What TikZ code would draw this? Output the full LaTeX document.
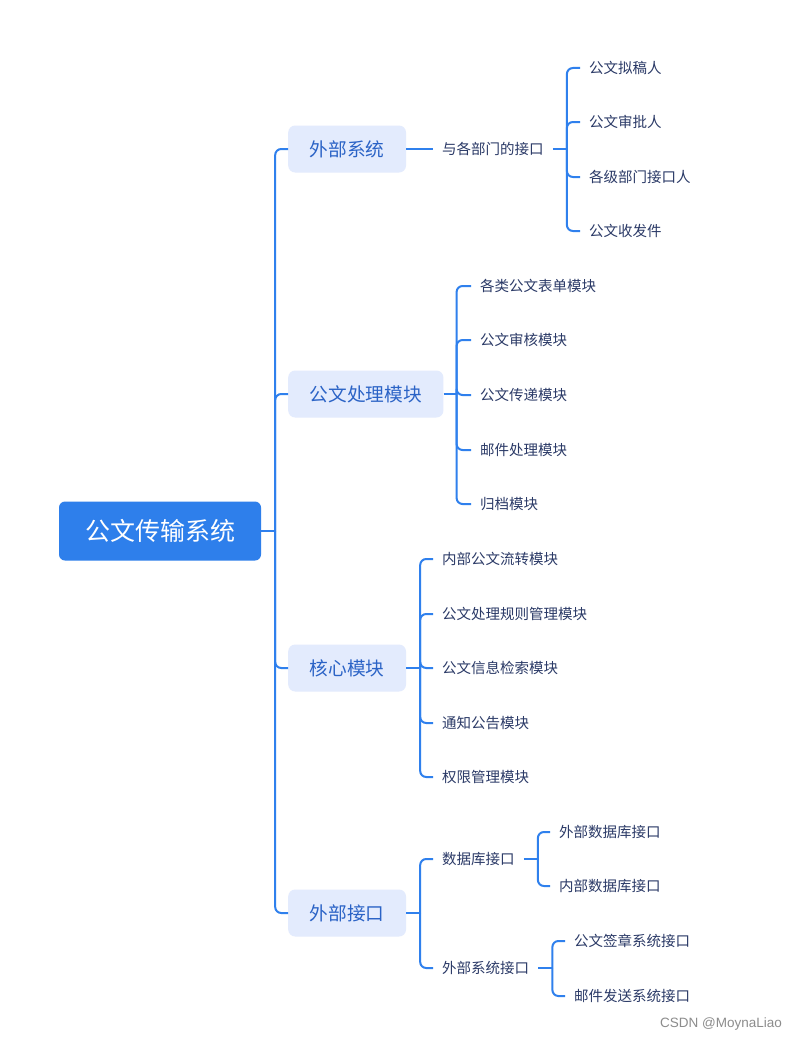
\documentclass[tikz,border=0pt]{standalone}
\usepackage{fontspec}
\usepackage{tikz}
\newfontfamily\cjk{Noto Sans CJK SC}
\newfontfamily\wmfont{Liberation Sans}
\definecolor{linkblue}{HTML}{2F80ED}
\definecolor{rootblue}{HTML}{2E7FEB}
\definecolor{boxfill}{HTML}{E3EBFD}
\definecolor{boxtext}{HTML}{2B63C6}
\definecolor{leaftext}{HTML}{2B3A67}
\tikzset{
  rootbox/.style={fill=rootblue, text=white, rounded corners=6pt,
    minimum width=202pt, minimum height=59pt, font=\cjk\fontsize{25}{29}\selectfont},
  topicbox/.style={fill=boxfill, text=boxtext, rounded corners=7pt, anchor=west,
    inner xsep=21.5pt, minimum height=47pt, font=\cjk\fontsize{18.7}{22}\selectfont},
  leaf/.style={text=leaftext, anchor=west, inner xsep=9pt, inner ysep=3pt,
    font=\cjk\fontsize{14.5}{17}\selectfont},
  link/.style={draw=linkblue, line width=2pt, rounded corners=6pt},
}

\begin{document}
\begin{tikzpicture}[x=1pt,y=-1pt]
\useasboundingbox (0,0) rectangle (799,1041);
\path[fill=white] (0,0) rectangle (799,1041);
% root and main topics:
\node[rootbox] (root) at (160,531) {公文传输系统};
\node[topicbox] (ext) at (288,149) {外部系统};
\node[topicbox] (proc) at (288,394) {公文处理模块};
\node[topicbox] (core) at (288,668) {核心模块};
\node[topicbox] (intf) at (288,913) {外部接口};
\coordinate (trunk) at ([xshift=14pt]root.east);
\draw[link] (root.east) -- (trunk);
\foreach \t in {ext,proc,core,intf}
  \draw[link] (trunk) |- (\t.west);
% 外部系统:
\node[leaf] (dept) at (433,149) {与各部门的接口};
\draw[link] (ext.east) -- (dept.west);
\coordinate (bdept) at ([xshift=14pt]dept.east);
\draw[link] (dept.east) -- (bdept);
\foreach \n/\y/\s in {d1/68/公文拟稿人, d2/122/公文审批人, d3/177/各级部门接口人, d4/231/公文收发件} {
  \node[leaf] (\n) at (580,\y) {\s};
  \draw[link] (bdept) |- (\n.west);
}
% 公文处理模块:
\coordinate (bproc) at ([xshift=13pt]proc.east);
\draw[link] (proc.east) -- (bproc);
\foreach \n/\y/\s in {p1/286/各类公文表单模块, p2/340/公文审核模块, p3/395/公文传递模块, p4/450/邮件处理模块, p5/504/归档模块} {
  \node[leaf] (\n) at (471,\y) {\s};
  \draw[link] (bproc) |- (\n.west);
}
% 核心模块:
\coordinate (bcore) at ([xshift=14pt]core.east);
\draw[link] (core.east) -- (bcore);
\foreach \n/\y/\s in {c1/559/内部公文流转模块, c2/614/公文处理规则管理模块, c3/668/公文信息检索模块, c4/723/通知公告模块, c5/777/权限管理模块} {
  \node[leaf] (\n) at (433,\y) {\s};
  \draw[link] (bcore) |- (\n.west);
}
% 外部接口:
\coordinate (bintf) at ([xshift=14pt]intf.east);
\draw[link] (intf.east) -- (bintf);
\node[leaf] (db) at (433,859) {数据库接口};
\node[leaf] (sys) at (433,968) {外部系统接口};
\draw[link] (bintf) |- (db.west);
\draw[link] (bintf) |- (sys.west);
\coordinate (bdb) at ([xshift=14pt]db.east);
\draw[link] (db.east) -- (bdb);
\foreach \n/\y/\s in {b1/832/外部数据库接口, b2/886/内部数据库接口} {
  \node[leaf] (\n) at (550,\y) {\s};
  \draw[link] (bdb) |- (\n.west);
}
\coordinate (bsys) at ([xshift=14pt]sys.east);
\draw[link] (sys.east) -- (bsys);
\foreach \n/\y/\s in {s1/941/公文签章系统接口, s2/996/邮件发送系统接口} {
  \node[leaf] (\n) at (565,\y) {\s};
  \draw[link] (bsys) |- (\n.west);
}
% watermark:
\node[text=black!45, font=\wmfont\fontsize{13.5}{15}\selectfont] (mark) at (721,1024) {CSDN @MoynaLiao};
\end{tikzpicture}
\end{document}
